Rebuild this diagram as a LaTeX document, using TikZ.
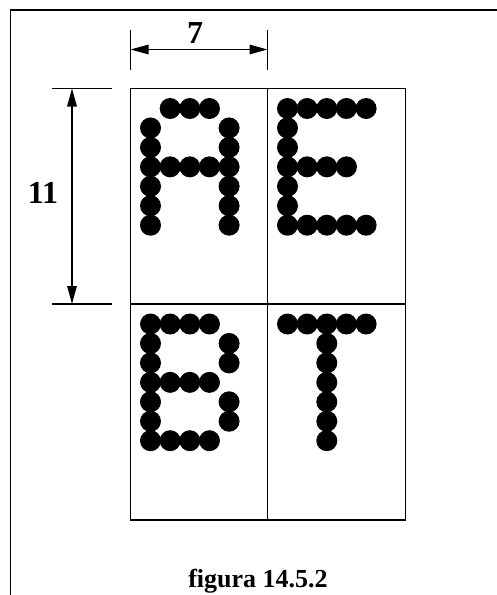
\documentclass[tikz,border=0pt]{standalone}
\usepackage{fontspec}
\setmainfont{Liberation Serif}
\usetikzlibrary{arrows.meta}
\newcommand\dotletter[3]{%
  \foreach \c/\r in {#3} \fill ({#1+20+\c*19.65},{#2+20+\r*19.45}) circle[radius=10.5pt];}
\begin{document}
\begin{tikzpicture}[x=1pt,y=-1pt,
  frame/.style={line width=1.3pt},
  cell/.style={line width=1.5pt},
  dimline/.style={line width=1.5pt},
  dimarrow/.style={line width=1.5pt,{Triangle[length=18pt,width=9.5pt]}-{Triangle[length=18pt,width=9.5pt]}},
  lbl/.style={font=\bfseries\fontsize{32}{34}\selectfont, inner sep=0pt},
  captext/.style={font=\bfseries\fontsize{26}{28}\selectfont, inner sep=0pt}]
\useasboundingbox (0,0) rectangle (497,595);
% frame
\coordinate (fbl) at (10.5,595);
\coordinate (ftl) at (10.5,10);
\coordinate (ftr) at (497,10);
\draw[frame] (fbl) -- (ftl) -- (ftr);
% cells
\coordinate (tl) at (130.5,88.5);
\coordinate (br) at (405.5,520);
\coordinate (mt) at (267.5,88.5);
\coordinate (mb) at (267.5,520);
\coordinate (ml) at (130.5,304);
\coordinate (mr) at (405.5,304);
\draw[cell] (tl) rectangle (br);
\draw[cell] (mt) -- (mb);
\draw[cell] (ml) -- (mr);
% dimension 7
\coordinate (h1a) at (130.5,30);
\coordinate (h1b) at (130.5,70);
\coordinate (h2a) at (267.5,30);
\coordinate (h2b) at (267.5,70);
\coordinate (ha) at (130.5,49.5);
\coordinate (hb) at (267.5,49.5);
\draw[dimline] (h1a) -- (h1b);
\draw[dimline] (h2a) -- (h2b);
\draw[dimarrow] (ha) -- (hb);
\node[lbl, anchor=base] (l7) at (195,43.3) {7};
% dimension 11
\coordinate (v1a) at (52,88.5);
\coordinate (v1b) at (112,88.5);
\coordinate (v2a) at (52,304);
\coordinate (v2b) at (112,304);
\coordinate (va) at (72,88.5);
\coordinate (vb) at (72,304);
\draw[dimline] (v1a) -- (v1b);
\draw[dimline] (v2a) -- (v2b);
\draw[dimarrow] (va) -- (vb);
\node[lbl, anchor=base] (l11) at (43,203.3) {11};
% letters
\dotletter{130.5}{88.5}{1/0,2/0,3/0,0/1,0/2,0/3,0/4,0/5,0/6,4/1,4/2,4/3,4/4,4/5,4/6,1/3,2/3,3/3}
\dotletter{267.5}{88.5}{0/0,1/0,2/0,3/0,4/0,0/1,0/2,0/3,0/4,0/5,0/6,1/3,2/3,3/3,1/6,2/6,3/6,4/6}
\dotletter{130.5}{304}{0/0,1/0,2/0,3/0,0/1,0/2,0/3,0/4,0/5,0/6,4/1,4/2,4/4,4/5,1/3,2/3,3/3,1/6,2/6,3/6}
\dotletter{267.5}{304}{0/0,1/0,2/0,3/0,4/0,2/1,2/2,2/3,2/4,2/5,2/6}
% caption
\node[captext, anchor=base] (caption) at (258,587) {figura 14.5.2};
\end{tikzpicture}
\end{document}
